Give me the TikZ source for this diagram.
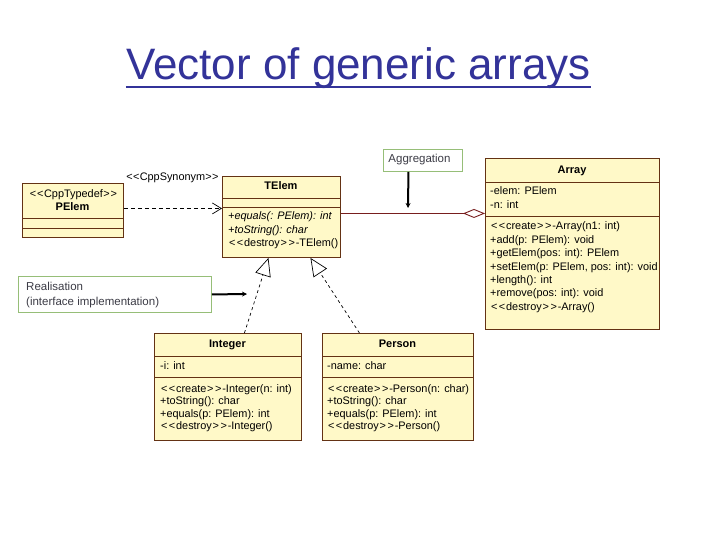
\documentclass[tikz,border=0pt]{standalone}
\usepackage{fontspec}
\setmainfont{Liberation Sans}
\usetikzlibrary{arrows.meta}
\definecolor{boxline}{RGB}{100,50,20}
\definecolor{boxfill}{RGB}{255,249,200}
\definecolor{aggline}{RGB}{120,30,30}
\definecolor{notegreen}{RGB}{150,190,120}
\definecolor{notetext}{RGB}{60,60,70}
\definecolor{titleblue}{RGB}{51,51,153}
\newcommand\stlt[1]{\kern#1<\kern#1\kern#1<\kern#1}
\newcommand\stgt[1]{\kern#1>\kern#1\kern#1>\kern#1}
\newcommand\stereo[1]{\stlt{0.8pt}#1\stgt{0.8pt}}
\begin{document}
\begin{tikzpicture}[x=1pt,y=-1pt,
  umlbox/.style={draw=boxline, fill=boxfill, line width=0.9pt, inner sep=0pt, anchor=north west},
  divider/.style={draw=boxline, line width=0.9pt},
  mtext/.style={anchor=west, inner sep=0pt, font=\fontsize{10.9}{12}\selectfont, text height=7.5pt, text depth=2pt},
  htext/.style={anchor=center, inner sep=0pt, font=\fontsize{11}{12}\selectfont\bfseries, text height=7.5pt, text depth=2pt},
  notebox/.style={draw=notegreen, fill=white, line width=0.9pt, inner sep=0pt, anchor=north west},
  ntext/.style={anchor=west, inner sep=0pt, text=notetext, font=\fontsize{11.5}{13}\selectfont, text height=8pt, text depth=2pt},
  dep/.style={draw=black, line width=0.7pt, dash pattern=on 4pt off 3pt},
  genl/.style={draw=black, line width=0.7pt, dash pattern=on 3pt off 3pt, -{Triangle[open, length=18pt, width=16pt, fill=white]}},
  pointer/.style={draw=black, line width=2pt, -{Stealth[length=5pt, width=5pt]}}
]
\useasboundingbox (0,0) rectangle (720,540);
\fill[white] (0,0) rectangle (720,540);

% title
\node[inner sep=0pt, anchor=base, text=titleblue, font=\fontsize{44}{50}\selectfont] (title) at (358.5,80) {Vector of generic arrays};
\draw[titleblue, line width=2pt] ([yshift=-7pt]title.base west) -- ([yshift=-7pt]title.base east);

% PElem
\node[umlbox, minimum width=101pt, minimum height=54pt] (pelem) at (22,183) {};
\draw[divider] (22,218) -- (123,218);
\draw[divider] (22,228) -- (123,228);
\node[anchor=center, inner sep=0pt, font=\fontsize{10.9}{12}\selectfont, text height=7.5pt, text depth=2pt] (pelemst) at (73.5,195) {\stlt{0.5pt}CppTypedef\stgt{0.5pt}};
\node[htext] (pelemname) at (72.5,208) {PElem};

% TElem
\node[umlbox, minimum width=118pt, minimum height=81pt] (telem) at (222,176) {};
\draw[divider] (222,198) -- (340,198);
\draw[divider] (222,207) -- (340,207);
\node[htext] (telemname) at (281,187) {TElem};
\node[mtext] (te1) at (228,217) {\itshape +equals(: PElem): int};
\node[mtext] (te2) at (228,230.5) {\itshape +toString(): char};
\node[mtext] (te3) at (228,244) {\stereo{destroy}-TElem()};

% Array
\node[umlbox, minimum width=174pt, minimum height=171pt] (array) at (485,158) {};
\draw[divider] (485,182) -- (659,182);
\draw[divider] (485,216) -- (659,216);
\node[htext] (arrayname) at (572,171) {Array};
\node[mtext] (aa1) at (490,192) {-elem: PElem};
\node[mtext] (aa2) at (490,205.5) {-n: int};
\node[mtext] (ao1) at (490,227) {\stereo{create}-Array(n1: int)};
\node[mtext] (ao2) at (490,240.5) {+add(p: PElem): void};
\node[mtext] (ao3) at (490,254) {+getElem(pos: int): PElem};
\node[mtext] (ao4) at (490,267.3) {+setElem(p: PElem, pos: int): void};
\node[mtext] (ao5) at (490,280.7) {+length(): int};
\node[mtext] (ao6) at (490,294) {+remove(pos: int): void};
\node[mtext] (ao7) at (490,307.3) {\stereo{destroy}-Array()};

% Integer
\node[umlbox, minimum width=147pt, minimum height=107pt] (integer) at (154,333) {};
\draw[divider] (154,356) -- (301,356);
\draw[divider] (154,377) -- (301,377);
\node[htext] (integername) at (227.5,345) {Integer};
\node[mtext] (ia1) at (160,366.5) {-i: int};
\node[mtext] (io1) at (160,389.5) {\stereo{create}-Integer(n: int)};
\node[mtext] (io2) at (160,402) {+toString(): char};
\node[mtext] (io3) at (160,414.5) {+equals(p: PElem): int};
\node[mtext] (io4) at (160,427) {\stereo{destroy}-Integer()};

% Person
\node[umlbox, minimum width=151pt, minimum height=107pt] (person) at (322,333) {};
\draw[divider] (322,356) -- (473,356);
\draw[divider] (322,377) -- (473,377);
\node[htext] (personname) at (397.5,345) {Person};
\node[mtext] (pa1) at (327,366.5) {-name: char};
\node[mtext] (po1) at (327,389.5) {\stereo{create}-Person(n: char)};
\node[mtext] (po2) at (327,402) {+toString(): char};
\node[mtext] (po3) at (327,414.5) {+equals(p: PElem): int};
\node[mtext] (po4) at (327,427) {\stereo{destroy}-Person()};

% notes
\node[notebox, minimum width=79pt, minimum height=22pt] (aggnote) at (383,149) {};
\node[anchor=center, inner sep=0pt, text=notetext, font=\fontsize{11.5}{13}\selectfont, text height=8pt, text depth=2pt] (aggtext) at (419.5,160) {Aggregation};
\node[notebox, minimum width=193pt, minimum height=36pt] (realnote) at (18,276) {};
\node[ntext] (real1) at (26,287) {Realisation};
\node[ntext] (real2) at (26,302) {(interface implementation)};

% synonym dependency
\node[anchor=center, inner sep=0pt, font=\fontsize{10.9}{12}\selectfont, text height=7.5pt, text depth=2pt] (synlabel) at (172.5,178) {\stlt{0.2pt}CppSynonym\stgt{0.2pt}};
\draw[dep, -{Straight Barb[length=9pt, width=11pt]}] ([yshift=2pt]pelem.east) -- ([yshift=8.5pt]telem.west);

% aggregation
\draw[aggline, line width=0.9pt, -{Diamond[open, length=22pt, width=9pt, fill=white]}] ([yshift=3.5pt]telem.east) -- ([yshift=30.5pt]array.west);

% realisations
\draw[genl] ([xshift=16.5pt]integer.north) -- ([xshift=-13pt]telem.south);
\draw[genl] ([xshift=-38.5pt]person.north) -- ([xshift=29pt]telem.south);

% note pointers
\coordinate (aggpt) at (408,208);
\draw[pointer] ([xshift=-14.5pt]aggnote.south) -- (aggpt);
\coordinate (realpt) at (247,294);
\draw[pointer] (realnote.east) -- (realpt);
\end{tikzpicture}
\end{document}
